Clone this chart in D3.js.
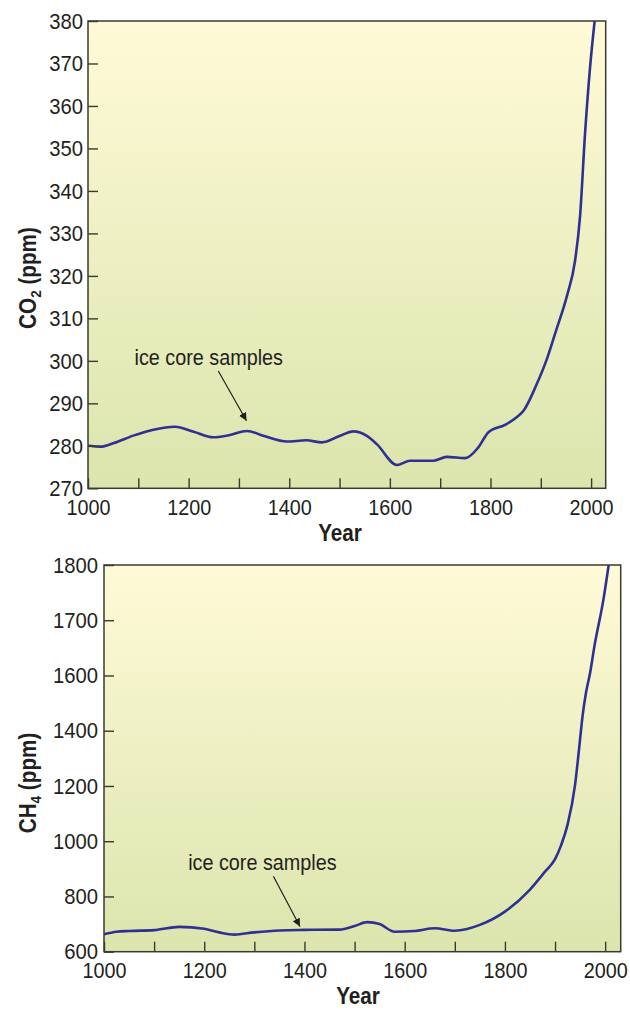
<!DOCTYPE html>
<html>
<head>
<meta charset="utf-8">
<script src="https://cdn.jsdelivr.net/npm/d3@7/dist/d3.min.js"></script>
<style>
  html, body { margin: 0; padding: 0; background: #ffffff; }
  svg text { font-family: "Liberation Sans Narrow", "Liberation Sans", Arial, sans-serif; fill: #231f20; }
</style>
</head>
<body>
<svg id="chart" width="630" height="1010"></svg>
<script>
// Atmospheric CO2 over the last millennium (ppm)
const co2Years  = [1000, 1025, 1050, 1090, 1130, 1173, 1210, 1249, 1280, 1316, 1350, 1395, 1434, 1465, 1500, 1527, 1555, 1574, 1614, 1640, 1687, 1713, 1750, 1775, 1796, 1830, 1852, 1866, 1890, 1912, 1930, 1952, 1968, 1978, 1988, 1998, 2007];
const co2Values = [280.0, 279.8, 280.6, 282.4, 283.8, 284.5, 283.3, 282.0, 282.5, 283.5, 282.3, 281.0, 281.3, 280.8, 282.3, 283.4, 282.3, 280.4, 275.5, 276.5, 276.5, 277.4, 277.1, 279.5, 283.2, 285.0, 286.7, 288.3, 294.0, 300.4, 307.0, 315.3, 323.5, 334.0, 353.6, 369.2, 380.0];
const co2Ticks  = [270, 280, 290, 300, 310, 320, 330, 340, 350, 360, 370, 380];

// Atmospheric CH4 over the last millennium
const ch4Years  = [1000, 1025, 1050, 1100, 1150, 1200, 1230, 1260, 1300, 1350, 1400, 1470, 1500, 1525, 1550, 1580, 1620, 1660, 1700, 1750, 1800, 1850, 1880, 1900, 1912, 1925, 1940, 1948, 1955, 1962, 1970, 1978, 1997, 2007];
const ch4Values = [663, 672, 675, 678, 690, 683, 670, 662, 670, 677, 679, 680, 693, 707, 700, 672, 675, 685, 676, 697, 745, 825, 890, 935, 985, 1060, 1205, 1335, 1455, 1540, 1605, 1650, 1740, 1800];
const ch4Ticks  = [600, 800, 1000, 1200, 1400, 1600, 1700, 1800];

// Shared year axis
const yearTicks  = d3.range(1000, 2001, 100);
const yearLabels = [1000, 1200, 1400, 1600, 1800, 2000];

const annotationText = "ice core samples";

// horizontal compression giving the lettering its condensed look
const SX = 0.9;
function condense(sel) {
  sel.each(function () {
    const t = d3.select(this);
    const ax = +t.attr("x") || 0;
    const prev = t.attr("transform") || "";
    t.attr("transform", `${prev} matrix(${SX},0,0,1,${(1 - SX) * ax},0)`);
  });
}

const svg = d3.select("#chart");

const defs = svg.append("defs");
const grad = defs.append("linearGradient")
  .attr("id", "bg").attr("x1", 0).attr("y1", 0).attr("x2", 0).attr("y2", 1);
grad.append("stop").attr("offset", "0%").attr("stop-color", "#fffad7");
grad.append("stop").attr("offset", "100%").attr("stop-color", "#dbe5ad");

defs.append("marker")
  .attr("id", "arrowhead")
  .attr("viewBox", "0 0 10 10")
  .attr("refX", 10).attr("refY", 5)
  .attr("markerWidth", 8).attr("markerHeight", 8)
  .attr("markerUnits", "userSpaceOnUse")
  .attr("orient", "auto")
  .append("path").attr("d", "M0,0 L10,5 L0,10 Z").attr("fill", "#231f20");

function panel(cfg) {
  const g = svg.append("g");
  const { left, top, right, bottom } = cfg.box;
  const x = d3.scaleLinear().domain(cfg.xDomain).range([left, right]);
  const y = cfg.y;

  g.append("rect")
    .attr("x", left).attr("y", top)
    .attr("width", right - left).attr("height", bottom - top)
    .attr("fill", "url(#bg)");

  const clipId = cfg.id + "-clip";
  defs.append("clipPath").attr("id", clipId)
    .append("rect")
    .attr("x", left).attr("y", top)
    .attr("width", right - left).attr("height", bottom - top);

  // data line
  const line = d3.line()
    .x((d, i) => x(cfg.years[i]))
    .y(d => y(d))
    .curve(d3.curveMonotoneX);
  g.append("path")
    .datum(cfg.values)
    .attr("clip-path", `url(#${clipId})`)
    .attr("fill", "none")
    .attr("stroke", "#2e3192")
    .attr("stroke-width", 2.6)
    .attr("stroke-linejoin", "round")
    .attr("d", line);

  // x axis, ticks pointing into the plot
  const xAxis = d3.axisBottom(x)
    .tickValues(yearTicks)
    .tickSize(-10)
    .tickPadding(11)
    .tickFormat(d => yearLabels.includes(d) ? String(d) : "");
  const gx = g.append("g").attr("transform", `translate(0,${bottom})`).call(xAxis);
  gx.select(".domain").remove();
  gx.selectAll("line").attr("stroke", "#3b3a30").attr("stroke-width", 1.4);
  gx.selectAll("text").attr("font-size", 22).call(condense);

  // y axis, ticks pointing into the plot
  const yAxis = d3.axisLeft(y)
    .tickValues(cfg.yTicks)
    .tickSize(-10)
    .tickPadding(cfg.yPad)
    .tickFormat(d3.format("d"));
  const gy = g.append("g").attr("transform", `translate(${left},0)`).call(yAxis);
  gy.select(".domain").remove();
  gy.selectAll("line").attr("stroke", "#3b3a30").attr("stroke-width", 1.4);
  gy.selectAll("text").attr("font-size", 22.5).call(condense);

  // frame
  g.append("rect")
    .attr("x", left).attr("y", top)
    .attr("width", right - left).attr("height", bottom - top)
    .attr("fill", "none")
    .attr("stroke", "#3b3a30")
    .attr("stroke-width", 1.5);

  // axis titles
  g.append("text")
    .attr("x", cfg.xTitle[0]).attr("y", cfg.xTitle[1])
    .attr("text-anchor", "middle")
    .attr("font-size", 23).attr("font-weight", "bold")
    .text("Year")
    .call(condense);

  const yt = g.append("text")
    .attr("transform", `translate(${cfg.yTitle[0]},${cfg.yTitle[1]}) rotate(-90) scale(${SX},1)`)
    .attr("text-anchor", "middle")
    .attr("font-size", 23).attr("font-weight", "bold");
  yt.append("tspan").text(cfg.gas[0]);
  yt.append("tspan").attr("font-size", 15).attr("dy", 5).text(cfg.gas[1]);
  yt.append("tspan").attr("dy", -5).text(" (ppm)");

  // annotation with arrow, placed in data space
  const a = cfg.note;
  g.append("text")
    .attr("x", x(a.text[0])).attr("y", y(a.text[1]))
    .attr("text-anchor", "middle")
    .attr("font-size", 22)
    .text(annotationText)
    .call(condense);
  g.append("line")
    .attr("x1", x(a.from[0])).attr("y1", y(a.from[1]))
    .attr("x2", x(a.to[0])).attr("y2", y(a.to[1]))
    .attr("stroke", "#231f20").attr("stroke-width", 1.2)
    .attr("marker-end", "url(#arrowhead)");
}

// CO2 panel
const co2Box = { left: 88, top: 21, right: 605.7, bottom: 488.3 };
panel({
  id: "co2",
  box: co2Box,
  xDomain: [1000, 2029],
  y: d3.scaleLinear().domain([270, 380]).range([co2Box.bottom, co2Box.top]),
  yTicks: co2Ticks,
  yPad: 5,
  years: co2Years,
  values: co2Values,
  gas: ["CO", "2"],
  xTitle: [340, 541],
  yTitle: [36, 278],
  note: { text: [1240, 299], from: [1259, 297.6], to: [1315, 285.9] }
});

// CH4 panel: tick labels are evenly spaced, so the scale is piecewise linear
const ch4Box = { left: 104, top: 565, right: 620.7, bottom: 951.7 };
const ch4Step = (ch4Box.bottom - ch4Box.top) / (ch4Ticks.length - 1);
panel({
  id: "ch4",
  box: ch4Box,
  xDomain: [1000, 2031],
  y: d3.scaleLinear().domain(ch4Ticks).range(ch4Ticks.map((d, i) => ch4Box.bottom - i * ch4Step)),
  yTicks: ch4Ticks,
  yPad: 6,
  years: ch4Years,
  values: ch4Values,
  gas: ["CH", "4"],
  xTitle: [358, 1004],
  yTitle: [36, 783],
  note: { text: [1316, 897], from: [1338, 873], to: [1391, 691] }
});
</script>
</body>
</html>
